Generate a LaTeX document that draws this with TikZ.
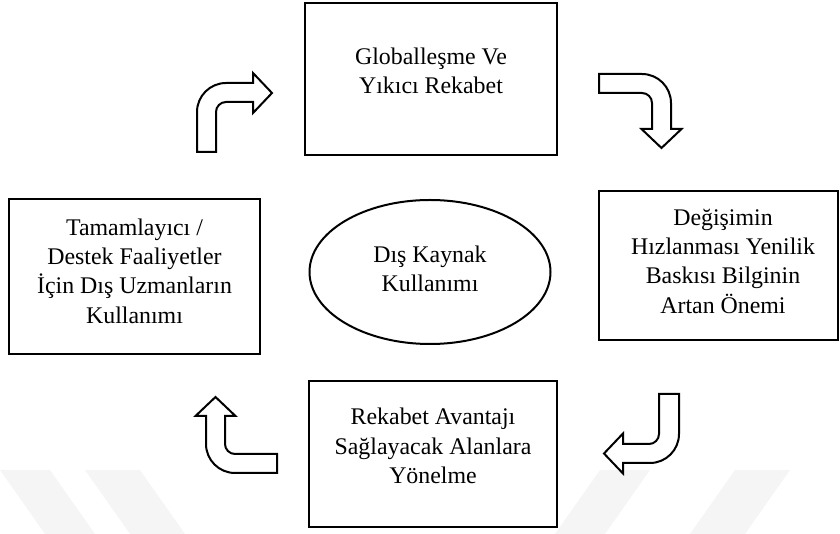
\documentclass[tikz,border=0pt]{standalone}
\usepackage{fontspec}
\setmainfont{Liberation Serif}
\usetikzlibrary{shapes.geometric}
\begin{document}
\begin{tikzpicture}[x=0.75pt,y=-0.75pt,
  box/.style={draw=black, line width=1.7pt, fill=white, rectangle, inner sep=0pt},
  oval/.style={draw=black, line width=1.5pt, fill=white, ellipse, inner sep=0pt},
  boxtext/.style={align=center, inner sep=0pt, font=\fontsize{17.9pt}{22pt}\selectfont},
  blockarrow/.style={draw=black, line width=1.5pt, fill=white, line join=miter},
  wm/.style={fill=black!4, draw=none}]

\useasboundingbox (0,0) rectangle (840,534);

% faint background bands
\fill[wm] (0,470) -- (50,470) -- (95,534) -- (45,534) -- cycle;
\fill[wm] (85,470) -- (140,470) -- (185,534) -- (130,534) -- cycle;
\fill[wm] (600,470) -- (650,470) -- (605,534) -- (555,534) -- cycle;
\fill[wm] (735,470) -- (790,470) -- (745,534) -- (690,534) -- cycle;

% boxes
\node[box, minimum width=252*0.75pt, minimum height=152*0.75pt] (top) at (431,79) {};
\node[box, minimum width=239*0.75pt, minimum height=149*0.75pt] (right) at (718.5,265.5) {};
\node[box, minimum width=251*0.75pt, minimum height=155*0.75pt] (left) at (134.5,276.5) {};
\node[box, minimum width=248*0.75pt, minimum height=146*0.75pt] (bottom) at (433,454) {};
\node[oval, minimum width=241*0.75pt, minimum height=144*0.75pt] (core) at (430,272) {};

% texts
\node[boxtext] (topT) at (431,71) {Globalleşme Ve\\Yıkıcı Rekabet};
\node[boxtext] (rightT) at (723,261) {Değişimin\\Hızlanması Yenilik\\Baskısı Bilginin\\Artan Önemi};
\node[boxtext] (leftT) at (134.5,271) {Tamamlayıcı /\\Destek Faaliyetler\\İçin Dış Uzmanların\\Kullanımı};
\node[boxtext] (bottomT) at (433,446) {Rekabet Avantajı\\Sağlayacak Alanlara\\Yönelme};
\node[boxtext] (coreT) at (430,269) {Dış Kaynak\\Kullanımı};

% bent block arrows
\draw[blockarrow] (197,152) -- (197,112) .. controls (197,96) and (210,83) .. (226,83)
  -- (253,83) -- (253,73) -- (272,93) -- (253,113) -- (253,102) -- (226,102)
  .. controls (220.5,102) and (216,106.5) .. (216,112) -- (216,152) -- cycle;

\draw[blockarrow] (599,74) -- (642,74) .. controls (658,74) and (671,87) .. (671,103)
  -- (671,129) -- (681.5,129) -- (661.5,148) -- (641.5,129) -- (652,129) -- (652,103)
  .. controls (652,97.5) and (647.5,93) .. (642,93) -- (599,93) -- cycle;

\draw[blockarrow] (659,394) -- (679,394) -- (679,434) .. controls (679,450) and (666,463) .. (650,463)
  -- (623,463) -- (623,473.5) -- (604,453.5) -- (623,433.5) -- (623,444) -- (649,444)
  .. controls (654.5,444) and (659,439.5) .. (659,434) -- cycle;

\draw[blockarrow] (277,454) -- (277,473) -- (235,473) .. controls (219,473) and (206,460) .. (206,444)
  -- (206,416) -- (195.5,416) -- (215.5,397) -- (235.5,416) -- (225,416) -- (225,444)
  .. controls (225,449.5) and (229.5,454) .. (235,454) -- cycle;
\end{tikzpicture}
\end{document}
